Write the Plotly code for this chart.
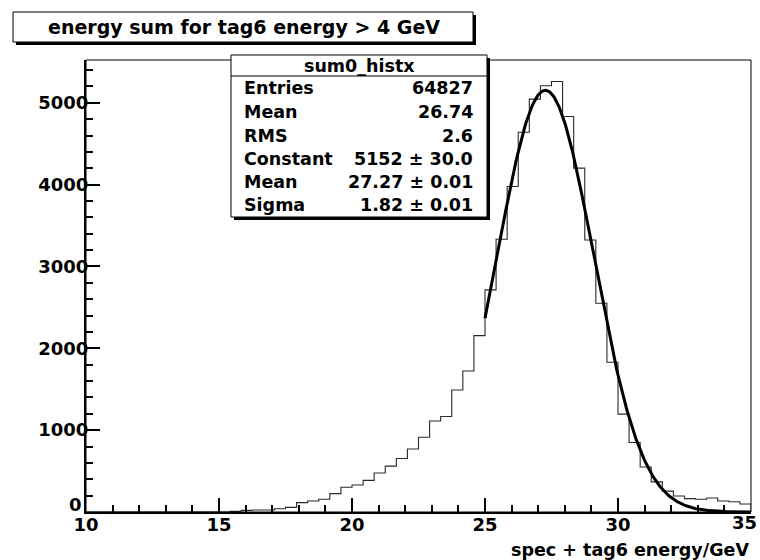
import numpy as np
import plotly.graph_objects as go

# ---------------- data ----------------
x_min, x_max, n_bins = 10.0, 35.0, 60
# bin contents (60 bins of width 25/60 from 10 to 35)
counts = [
    0, 0, 0, 0, 0, 0, 0, 0, 0, 0,
    0, 0, 0, 8, 20, 25, 25, 40, 57, 114,
    134, 155, 224, 302, 330, 387, 477, 560, 654, 770,
    913, 1112, 1167, 1491, 1722, 2155, 2714, 3333, 3977, 4641,
    5045, 5208, 5260, 4833, 4202, 3323, 2551, 1830, 1196, 849,
    550, 368, 255, 196, 163, 155, 171, 134, 126, 98,
]
# Gaussian fit parameters (from stats box)
fit_const, fit_mean, fit_sigma = 5152.0, 27.27, 1.82
fit_lo, fit_hi = 25.0, 35.0

title_text = "energy sum for tag6 energy > 4 GeV"
xaxis_title = "spec + tag6 energy/GeV"
stats_name = "sum0_histx"
stats_labels = ["Entries", "Mean", "RMS", "Constant", "Mean", "Sigma"]
stats_values = ["64827", "26.74", "2.6", "5152 \u00b1 30.0", "27.27 \u00b1 0.01", "1.82 \u00b1 0.01"]
y_ticks = [0, 1000, 2000, 3000, 4000, 5000]
x_ticks = [10, 15, 20, 25, 30, 35]

# ---------------- build ----------------
edges = np.linspace(x_min, x_max, n_bins + 1)
hx = list(edges) + [x_max]
hy = list(counts) + [counts[-1], 0]

fx = np.linspace(fit_lo, fit_hi, 300)
fy = fit_const * np.exp(-0.5 * ((fx - fit_mean) / fit_sigma) ** 2)

W, H = 760, 560
L, R, T, B = 86, 9, 60, 48
PW, PH = W - L - R, H - T - B


def px(xp):
    return (xp - L) / PW


def py(yp):
    return (H - B - yp) / PH


FONT = "DejaVu Sans"
tickfont = dict(family=FONT, size=18, color="black", weight="bold")
statfont = dict(family=FONT, size=17.5, color="black", weight="bold")

fig = go.Figure()
fig.add_trace(go.Scatter(x=hx, y=hy, mode="lines", line=dict(shape="hv", color="#2a2a2a", width=1.1),
                         hoverinfo="skip", showlegend=False))
fig.add_trace(go.Scatter(x=fx, y=fy, mode="lines", line=dict(color="black", width=3),
                         hoverinfo="skip", showlegend=False))

shapes = []
# frame
shapes.append(dict(type="rect", xref="paper", yref="paper", x0=0, x1=1, y0=0, y1=1,
                   line=dict(color="black", width=1), layer="above"))
# title box with shadow
shapes.append(dict(type="rect", xref="paper", yref="paper", x0=px(16), x1=px(476), y0=py(45), y1=py(15),
                   fillcolor="black", line=dict(width=0), layer="above"))
shapes.append(dict(type="rect", xref="paper", yref="paper", x0=px(13), x1=px(473), y0=py(42), y1=py(12),
                   fillcolor="white", line=dict(color="black", width=1), layer="above"))
# stats box with shadow
shapes.append(dict(type="rect", xref="paper", yref="paper", x0=px(234), x1=px(490), y0=py(220), y1=py(58),
                   fillcolor="black", line=dict(width=0), layer="above"))
shapes.append(dict(type="rect", xref="paper", yref="paper", x0=px(231), x1=px(487), y0=py(217), y1=py(55),
                   fillcolor="white", line=dict(color="black", width=1), layer="above"))
shapes.append(dict(type="line", xref="paper", yref="paper", x0=px(231), x1=px(487), y0=py(76), y1=py(76),
                   line=dict(color="black", width=1), layer="above"))

ann = []
ann.append(dict(text=title_text, xref="paper", yref="paper", x=px(244), y=py(26.5), xanchor="center",
                yanchor="middle", showarrow=False, font=dict(family=FONT, size=19, color="black", weight="bold")))
ann.append(dict(text=stats_name, xref="paper", yref="paper", x=px(359), y=py(66), xanchor="center",
                yanchor="middle", showarrow=False, font=statfont))
row_y = [88, 112, 136, 159, 182, 205]
for lab, val, ry in zip(stats_labels, stats_values, row_y):
    ann.append(dict(text=lab, xref="paper", yref="paper", x=px(242), y=py(ry), xanchor="left",
                    yanchor="middle", showarrow=False, font=statfont))
    ann.append(dict(text=val, xref="paper", yref="paper", x=px(475), y=py(ry), xanchor="right",
                    yanchor="middle", showarrow=False, font=statfont))
ann.append(dict(text=xaxis_title, xref="paper", yref="paper", x=px(751), y=py(550), xanchor="right",
                yanchor="middle", showarrow=False, font=dict(family=FONT, size=17.5, color="black", weight="bold")))
# last x tick label, kept at the page's right edge
ann.append(dict(text=str(x_ticks[-1]), xref="paper", yref="paper", x=px(759), y=py(522), xanchor="right",
                yanchor="middle", showarrow=False, font=tickfont))
# y "0" label, raised slightly above the corner as in the original
ann.append(dict(text=str(y_ticks[0]), xref="paper", yref="paper", x=px(84), y=py(504), xanchor="right",
                yanchor="middle", showarrow=False, font=tickfont))

fig.update_layout(
    width=W, height=H, margin=dict(l=L, r=R, t=T, b=B, pad=0),
    paper_bgcolor="white", plot_bgcolor="white",
    shapes=shapes, annotations=ann, showlegend=False,
    xaxis=dict(range=[x_min, x_max], tickvals=x_ticks[:-1], ticktext=[str(v) for v in x_ticks[:-1]],
               ticks="inside", ticklen=14, tickwidth=2, tickcolor="black",
               showline=True, linecolor="black", linewidth=2, showgrid=False, zeroline=False,
               tickfont=tickfont, ticklabelstandoff=-5,
               minor=dict(dtick=1, ticks="inside", ticklen=7, tickwidth=1.5, tickcolor="black", showgrid=False)),
    yaxis=dict(range=[0, 5523], tickvals=y_ticks[1:], ticktext=[str(v) for v in y_ticks[1:]],
               ticks="inside", ticklen=14, tickwidth=2, tickcolor="black",
               showline=True, linecolor="black", linewidth=2, showgrid=False, zeroline=False,
               tickfont=tickfont, ticklabelstandoff=-8,
               minor=dict(dtick=200, ticks="inside", ticklen=7, tickwidth=1.5, tickcolor="black", showgrid=False)),
)

fig.write_html("out.html")
